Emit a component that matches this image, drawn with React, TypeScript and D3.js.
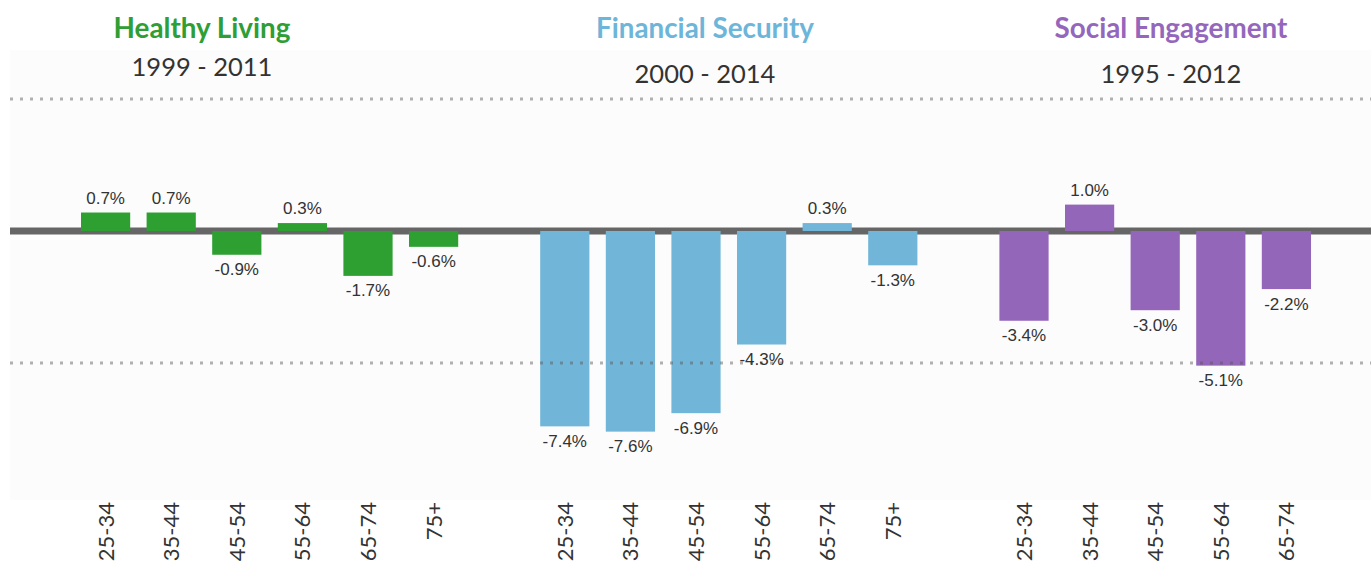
import React, { useEffect, useRef } from "react";
import * as d3 from "d3";

const healthyCategories = ["25-34", "35-44", "45-54", "55-64", "65-74", "75+"];
const healthyValues = [0.7, 0.7, -0.9, 0.3, -1.7, -0.6];
const financialCategories = ["25-34", "35-44", "45-54", "55-64", "65-74", "75+"];
const financialValues = [-7.4, -7.6, -6.9, -4.3, 0.3, -1.3];
const socialCategories = ["25-34", "35-44", "45-54", "55-64", "65-74"];
const socialValues = [-3.4, 1.0, -3.0, -5.1, -2.2];

const groupNames = ["Healthy Living", "Financial Security", "Social Engagement"];
const groupYears = ["1999 - 2011", "2000 - 2014", "1995 - 2012"];
const gridValues = [5, -5];

const W = 1371;
const H = 563;

export default function App() {
  const ref = useRef<SVGSVGElement | null>(null);

  useEffect(() => {
    document.body.style.margin = "0";
    const svg = d3.select(ref.current!);
    svg.selectAll("*").remove();

    const groups = [
      { name: groupNames[0], years: groupYears[0], cats: healthyCategories, vals: healthyValues, color: "#2e9e35", bar: "#2e9f31", tx: 202, yy: 76 },
      { name: groupNames[1], years: groupYears[1], cats: financialCategories, vals: financialValues, color: "#6db6d9", bar: "#71b6d8", tx: 705, yy: 83 },
      { name: groupNames[2], years: groupYears[2], cats: socialCategories, vals: socialValues, color: "#9467bd", bar: "#9466ba", tx: 1171, yy: 83 },
    ];

    type Slot = { key: string; cat?: string; val?: number; bar?: string };
    const slots: Slot[] = [];
    groups.forEach((g, gi) => {
      g.cats.forEach((c, i) => slots.push({ key: `${gi}-${c}`, cat: c, val: g.vals[i], bar: g.bar }));
      slots.push({ key: `gap-${gi}` });
    });

    const x = d3
      .scaleBand<string>()
      .domain(slots.map((s) => s.key))
      .range([72.8, 1384.8])
      .paddingInner(0.25)
      .paddingOuter(0.125);

    const y = d3.scaleLinear().domain([-10, 5]).range([495, 99]);

    // panel background
    svg.append("rect").attr("x", 10).attr("y", 50).attr("width", W - 10).attr("height", 450).attr("fill", "#fcfcfc");

    // titles
    groups.forEach((g) => {
      svg
        .append("text")
        .attr("x", g.tx)
        .attr("y", 38)
        .attr("text-anchor", "middle")
        .attr("font-family", "Lato, 'Open Sans', sans-serif")
        .attr("font-weight", 700)
        .attr("font-size", 27.8)
        .attr("fill", g.color)
        .text(g.name);
      svg
        .append("text")
        .attr("x", g.tx)
        .attr("y", g.yy)
        .attr("text-anchor", "middle")
        .attr("font-family", "Lato, 'Open Sans', sans-serif")
        .attr("font-weight", 400)
        .attr("font-size", 25.5)
        .attr("fill", "#333")
        .text(g.years);
    });

    // zero line
    svg
      .append("line")
      .attr("x1", 10)
      .attr("x2", W)
      .attr("y1", y(0))
      .attr("y2", y(0))
      .attr("stroke", "#666")
      .attr("stroke-width", 7);

    const bars = slots.filter((s) => s.cat !== undefined);

    svg
      .append("g")
      .selectAll("rect")
      .data(bars)
      .join("rect")
      .attr("x", (d) => x(d.key)!)
      .attr("width", x.bandwidth())
      .attr("y", (d) => (d.val! >= 0 ? y(d.val!) : y(0)))
      .attr("height", (d) => Math.abs(y(d.val!) - y(0)))
      .attr("fill", (d) => d.bar!);

    // dotted grid lines (on top)
    svg
      .append("g")
      .selectAll("line")
      .data(gridValues)
      .join("line")
      .attr("x1", 10)
      .attr("x2", W)
      .attr("y1", (d) => y(d))
      .attr("y2", (d) => y(d))
      .attr("stroke", "#555")
      .attr("stroke-opacity", 0.45)
      .attr("stroke-width", 3)
      .attr("stroke-dasharray", "3 7");

    // value labels
    svg
      .append("g")
      .selectAll("text")
      .data(bars)
      .join("text")
      .attr("x", (d) => x(d.key)! + x.bandwidth() / 2)
      .attr("y", (d) => (d.val! >= 0 ? y(d.val!) - 9 : y(d.val!) + 20.5))
      .attr("text-anchor", "middle")
      .attr("font-family", "'Liberation Sans', Arial, sans-serif")
      .attr("font-size", 17)
      .attr("fill", "#333")
      .text((d) => `${d.val!.toFixed(1)}%`);

    // category tick labels
    svg
      .append("g")
      .selectAll("text")
      .data(bars)
      .join("text")
      .attr("transform", (d) => `translate(${x(d.key)! + x.bandwidth() / 2},502) rotate(-90)`)
      .attr("text-anchor", "end")
      .attr("dy", "0.36em")
      .attr("font-family", "Lato, 'Open Sans', sans-serif")
      .attr("font-weight", 400)
      .attr("font-size", 22)
      .attr("fill", "#333")
      .text((d) => d.cat!);
  }, []);

  return (
    <svg
      ref={ref}
      width={W}
      height={H}
      style={{ position: "absolute", left: 0, top: 0, background: "#fff", display: "block" }}
    />
  );
}
